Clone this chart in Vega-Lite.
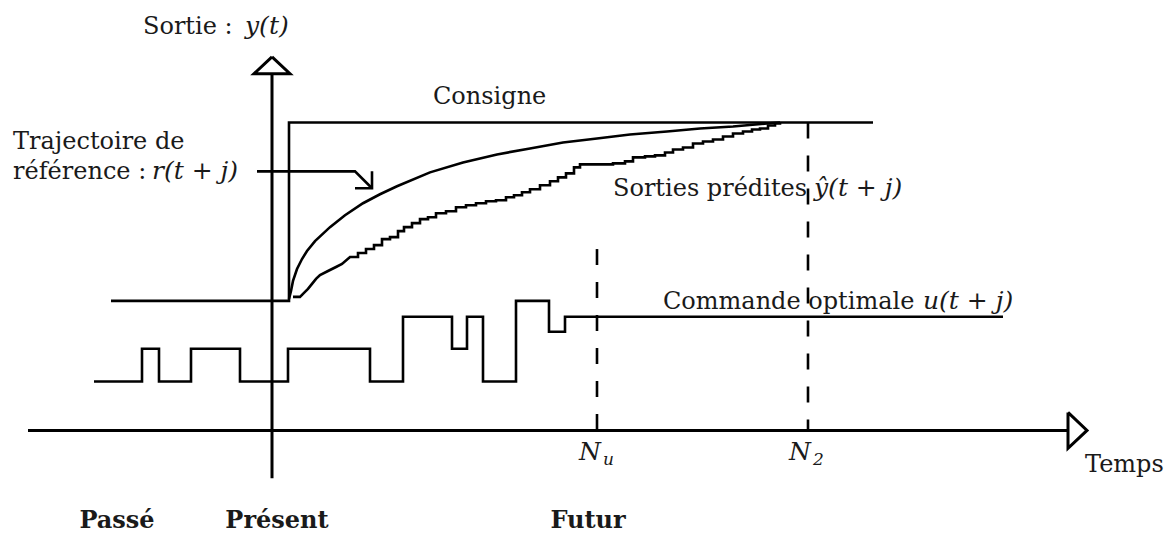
{
  "$schema": "https://vega.github.io/schema/vega-lite/v6.json",
  "width": 1174,
  "height": 533,
  "autosize": {"type": "fit", "contains": "padding"},
  "padding": 0,
  "background": "white",
  "config": {"view": {"stroke": null}},
  "datasets": {
    "ax": [
      {"id": "ya", "i": 0, "t": 0, "v": -48}, {"id": "ya", "i": 1, "t": 0, "v": 358},
      {"id": "yt", "i": 0, "t": 0, "v": 375}, {"id": "yt", "i": 1, "t": -18, "v": 358}, {"id": "yt", "i": 2, "t": 18, "v": 358}, {"id": "yt", "i": 3, "t": 0, "v": 375},
      {"id": "xa", "i": 0, "t": -244, "v": 0}, {"id": "xa", "i": 1, "t": 796, "v": 0},
      {"id": "xt", "i": 0, "t": 796, "v": 18}, {"id": "xt", "i": 1, "t": 815, "v": 0}, {"id": "xt", "i": 2, "t": 796, "v": -18}, {"id": "xt", "i": 3, "t": 796, "v": 18}
    ],
    "cv": [
      {"id": "c", "i": 0, "t": -161, "v": 130}, {"id": "c", "i": 1, "t": 17, "v": 130}, {"id": "c", "i": 2, "t": 17, "v": 309}, {"id": "c", "i": 3, "t": 601, "v": 309},
      {"id": "r", "i": 0, "t": 17, "v": 132}, {"id": "r", "i": 1, "t": 19, "v": 140}, {"id": "r", "i": 2, "t": 21, "v": 150}, {"id": "r", "i": 3, "t": 25, "v": 162}, {"id": "r", "i": 4, "t": 30, "v": 172}, {"id": "r", "i": 5, "t": 35, "v": 180}, {"id": "r", "i": 6, "t": 43, "v": 190}, {"id": "r", "i": 7, "t": 58, "v": 204}, {"id": "r", "i": 8, "t": 73, "v": 216}, {"id": "r", "i": 9, "t": 91, "v": 228}, {"id": "r", "i": 10, "t": 108, "v": 237}, {"id": "r", "i": 11, "t": 125, "v": 245}, {"id": "r", "i": 12, "t": 158, "v": 259}, {"id": "r", "i": 13, "t": 191, "v": 269}, {"id": "r", "i": 14, "t": 225, "v": 277}, {"id": "r", "i": 15, "t": 258, "v": 283}, {"id": "r", "i": 16, "t": 291, "v": 289}, {"id": "r", "i": 17, "t": 325, "v": 293}, {"id": "r", "i": 18, "t": 358, "v": 297}, {"id": "r", "i": 19, "t": 395, "v": 300}, {"id": "r", "i": 20, "t": 428, "v": 303}, {"id": "r", "i": 21, "t": 461, "v": 305}, {"id": "r", "i": 22, "t": 495, "v": 308}, {"id": "r", "i": 23, "t": 508, "v": 309},
      {"id": "p", "i": 0, "t": 21, "v": 134}, {"id": "p", "i": 1, "t": 28, "v": 134}, {"id": "p", "i": 2, "t": 32, "v": 138}, {"id": "p", "i": 3, "t": 36, "v": 142}, {"id": "p", "i": 4, "t": 40, "v": 147}, {"id": "p", "i": 5, "t": 44, "v": 152}, {"id": "p", "i": 6, "t": 48, "v": 156}, {"id": "p", "i": 7, "t": 56, "v": 160}, {"id": "p", "i": 8, "t": 64, "v": 164}, {"id": "p", "i": 9, "t": 70, "v": 167}, {"id": "p", "i": 10, "t": 78, "v": 174},
      {"id": "p", "i": 11, "t": 86, "v": 174}, {"id": "p", "i": 12, "t": 86, "v": 178}, {"id": "p", "i": 13, "t": 94, "v": 178}, {"id": "p", "i": 14, "t": 94, "v": 182}, {"id": "p", "i": 15, "t": 102, "v": 182}, {"id": "p", "i": 16, "t": 102, "v": 186}, {"id": "p", "i": 17, "t": 110, "v": 186}, {"id": "p", "i": 18, "t": 110, "v": 192}, {"id": "p", "i": 19, "t": 118, "v": 192}, {"id": "p", "i": 20, "t": 118, "v": 194}, {"id": "p", "i": 21, "t": 126, "v": 194}, {"id": "p", "i": 22, "t": 126, "v": 200}, {"id": "p", "i": 23, "t": 132, "v": 200}, {"id": "p", "i": 24, "t": 132, "v": 204}, {"id": "p", "i": 25, "t": 140, "v": 204}, {"id": "p", "i": 26, "t": 140, "v": 208}, {"id": "p", "i": 27, "t": 148, "v": 208}, {"id": "p", "i": 28, "t": 148, "v": 212}, {"id": "p", "i": 29, "t": 156, "v": 212}, {"id": "p", "i": 30, "t": 156, "v": 214}, {"id": "p", "i": 31, "t": 164, "v": 214}, {"id": "p", "i": 32, "t": 164, "v": 218}, {"id": "p", "i": 33, "t": 174, "v": 218}, {"id": "p", "i": 34, "t": 174, "v": 220}, {"id": "p", "i": 35, "t": 184, "v": 220}, {"id": "p", "i": 36, "t": 184, "v": 224}, {"id": "p", "i": 37, "t": 194, "v": 224}, {"id": "p", "i": 38, "t": 194, "v": 226}, {"id": "p", "i": 39, "t": 204, "v": 226}, {"id": "p", "i": 40, "t": 204, "v": 228}, {"id": "p", "i": 41, "t": 214, "v": 228}, {"id": "p", "i": 42, "t": 214, "v": 230}, {"id": "p", "i": 43, "t": 224, "v": 230}, {"id": "p", "i": 44, "t": 224, "v": 231}, {"id": "p", "i": 45, "t": 234, "v": 231}, {"id": "p", "i": 46, "t": 234, "v": 234}, {"id": "p", "i": 47, "t": 242, "v": 234}, {"id": "p", "i": 48, "t": 242, "v": 236}, {"id": "p", "i": 49, "t": 250, "v": 236}, {"id": "p", "i": 50, "t": 250, "v": 239}, {"id": "p", "i": 51, "t": 258, "v": 239}, {"id": "p", "i": 52, "t": 258, "v": 242}, {"id": "p", "i": 53, "t": 268, "v": 242}, {"id": "p", "i": 54, "t": 268, "v": 246}, {"id": "p", "i": 55, "t": 278, "v": 246}, {"id": "p", "i": 56, "t": 278, "v": 250}, {"id": "p", "i": 57, "t": 286, "v": 250}, {"id": "p", "i": 58, "t": 286, "v": 254}, {"id": "p", "i": 59, "t": 294, "v": 254}, {"id": "p", "i": 60, "t": 294, "v": 258}, {"id": "p", "i": 61, "t": 302, "v": 258}, {"id": "p", "i": 62, "t": 302, "v": 264}, {"id": "p", "i": 63, "t": 308, "v": 264}, {"id": "p", "i": 64, "t": 308, "v": 267}, {"id": "p", "i": 65, "t": 341, "v": 267}, {"id": "p", "i": 66, "t": 341, "v": 268}, {"id": "p", "i": 67, "t": 353, "v": 268}, {"id": "p", "i": 68, "t": 353, "v": 270}, {"id": "p", "i": 69, "t": 361, "v": 270}, {"id": "p", "i": 70, "t": 361, "v": 274}, {"id": "p", "i": 71, "t": 373, "v": 274}, {"id": "p", "i": 72, "t": 373, "v": 275}, {"id": "p", "i": 73, "t": 383, "v": 275}, {"id": "p", "i": 74, "t": 383, "v": 276}, {"id": "p", "i": 75, "t": 393, "v": 276}, {"id": "p", "i": 76, "t": 393, "v": 279}, {"id": "p", "i": 77, "t": 401, "v": 279}, {"id": "p", "i": 78, "t": 401, "v": 282}, {"id": "p", "i": 79, "t": 411, "v": 282}, {"id": "p", "i": 80, "t": 411, "v": 284}, {"id": "p", "i": 81, "t": 421, "v": 284}, {"id": "p", "i": 82, "t": 421, "v": 288}, {"id": "p", "i": 83, "t": 431, "v": 288}, {"id": "p", "i": 84, "t": 431, "v": 290}, {"id": "p", "i": 85, "t": 441, "v": 290}, {"id": "p", "i": 86, "t": 441, "v": 292}, {"id": "p", "i": 87, "t": 451, "v": 292}, {"id": "p", "i": 88, "t": 451, "v": 295}, {"id": "p", "i": 89, "t": 461, "v": 295}, {"id": "p", "i": 90, "t": 461, "v": 298}, {"id": "p", "i": 91, "t": 471, "v": 298}, {"id": "p", "i": 92, "t": 471, "v": 300}, {"id": "p", "i": 93, "t": 480, "v": 300}, {"id": "p", "i": 94, "t": 480, "v": 302}, {"id": "p", "i": 95, "t": 488, "v": 302}, {"id": "p", "i": 96, "t": 488, "v": 303}, {"id": "p", "i": 97, "t": 496, "v": 303}, {"id": "p", "i": 98, "t": 496, "v": 306}, {"id": "p", "i": 99, "t": 503, "v": 306}, {"id": "p", "i": 100, "t": 503, "v": 308}, {"id": "p", "i": 101, "t": 508, "v": 308}, {"id": "p", "i": 102, "t": 508, "v": 309},
      {"id": "u", "i": 0, "t": -178, "v": 49}, {"id": "u", "i": 1, "t": -130, "v": 49}, {"id": "u", "i": 2, "t": -130, "v": 82}, {"id": "u", "i": 3, "t": -113, "v": 82}, {"id": "u", "i": 4, "t": -113, "v": 49}, {"id": "u", "i": 5, "t": -81, "v": 49}, {"id": "u", "i": 6, "t": -81, "v": 82}, {"id": "u", "i": 7, "t": -32, "v": 82}, {"id": "u", "i": 8, "t": -32, "v": 49}, {"id": "u", "i": 9, "t": 16, "v": 49}, {"id": "u", "i": 10, "t": 16, "v": 82}, {"id": "u", "i": 11, "t": 98, "v": 82}, {"id": "u", "i": 12, "t": 98, "v": 49}, {"id": "u", "i": 13, "t": 131, "v": 49}, {"id": "u", "i": 14, "t": 131, "v": 114}, {"id": "u", "i": 15, "t": 180, "v": 114}, {"id": "u", "i": 16, "t": 180, "v": 82}, {"id": "u", "i": 17, "t": 195, "v": 82}, {"id": "u", "i": 18, "t": 195, "v": 114}, {"id": "u", "i": 19, "t": 211, "v": 114}, {"id": "u", "i": 20, "t": 211, "v": 49}, {"id": "u", "i": 21, "t": 244, "v": 49}, {"id": "u", "i": 22, "t": 244, "v": 130}, {"id": "u", "i": 23, "t": 277, "v": 130}, {"id": "u", "i": 24, "t": 277, "v": 99}, {"id": "u", "i": 25, "t": 293, "v": 99}, {"id": "u", "i": 26, "t": 293, "v": 114}, {"id": "u", "i": 27, "t": 731, "v": 114},
      {"id": "a", "i": 0, "t": -15, "v": 260}, {"id": "a", "i": 1, "t": 83, "v": 260}, {"id": "a", "i": 2, "t": 100, "v": 243},
      {"id": "h", "i": 0, "t": 100, "v": 260}, {"id": "h", "i": 1, "t": 100, "v": 243}, {"id": "h", "i": 2, "t": 83, "v": 243}
    ],
    "ds": [
      {"id": "nu", "i": 0, "t": 325, "v": 182}, {"id": "nu", "i": 1, "t": 325, "v": 0},
      {"id": "n2", "i": 0, "t": 536, "v": 309}, {"id": "n2", "i": 1, "t": 536, "v": 0}
    ],
    "tn": [
      {"s": "Sortie :", "t": -129, "v": 398},
      {"s": "Consigne", "t": 161, "v": 328},
      {"s": "Trajectoire de", "t": -259, "v": 282},
      {"s": "référence :", "t": -259, "v": 252},
      {"s": "Sorties prédites", "t": 341, "v": 235},
      {"s": "Commande optimale", "t": 391, "v": 122},
      {"s": "Temps", "t": 813, "v": -42}
    ],
    "ti": [
      {"s": "y(t)", "t": -27, "v": 398},
      {"s": "r(t + j)", "t": -120, "v": 252},
      {"s": "ŷ(t + j)", "t": 542, "v": 235},
      {"s": "u(t + j)", "t": 651, "v": 122},
      {"s": "N", "t": 307, "v": -30},
      {"s": "N", "t": 517, "v": -30}
    ],
    "ts": [
      {"s": "u", "t": 331, "v": -35},
      {"s": "2", "t": 541, "v": -35}
    ],
    "tb": [
      {"s": "Passé", "t": -155, "v": -98},
      {"s": "Présent", "t": 5, "v": -98},
      {"s": "Futur", "t": 316, "v": -98}
    ]
  },
  "encoding": {
    "x": {"field": "t", "type": "quantitative", "scale": {"domain": [-272, 902], "nice": false, "zero": false}, "axis": null},
    "y": {"field": "v", "type": "quantitative", "scale": {"domain": [-101, 432], "nice": false, "zero": false}, "axis": null}
  },
  "layer": [
    {
      "data": {"name": "ax"},
      "mark": {"type": "line", "color": "#000", "strokeWidth": 3, "strokeJoin": "miter"},
      "encoding": {"detail": {"field": "id"}, "order": {"field": "i", "type": "quantitative"}}
    },
    {
      "data": {"name": "cv"},
      "mark": {"type": "line", "color": "#000", "strokeWidth": 2.6, "strokeJoin": "miter"},
      "encoding": {"detail": {"field": "id"}, "order": {"field": "i", "type": "quantitative"}}
    },
    {
      "data": {"name": "ds"},
      "mark": {"type": "line", "color": "#000", "strokeWidth": 2.6, "strokeDash": [16, 17]},
      "encoding": {"detail": {"field": "id"}, "order": {"field": "i", "type": "quantitative"}}
    },
    {
      "data": {"name": "tn"},
      "mark": {"type": "text", "font": "DejaVu Serif", "fontSize": 24, "align": "left", "baseline": "alphabetic", "color": "#1a1a1a"},
      "encoding": {"text": {"field": "s"}}
    },
    {
      "data": {"name": "ti"},
      "mark": {"type": "text", "font": "DejaVu Serif", "fontSize": 25, "fontStyle": "italic", "align": "left", "baseline": "alphabetic", "color": "#1a1a1a"},
      "encoding": {"text": {"field": "s"}}
    },
    {
      "data": {"name": "ts"},
      "mark": {"type": "text", "font": "DejaVu Serif", "fontSize": 17, "fontStyle": "italic", "align": "left", "baseline": "alphabetic", "color": "#1a1a1a"},
      "encoding": {"text": {"field": "s"}}
    },
    {
      "data": {"name": "tb"},
      "mark": {"type": "text", "font": "DejaVu Serif", "fontSize": 24, "fontWeight": "bold", "align": "center", "baseline": "alphabetic", "color": "#1a1a1a"},
      "encoding": {"text": {"field": "s"}}
    }
  ]
}
